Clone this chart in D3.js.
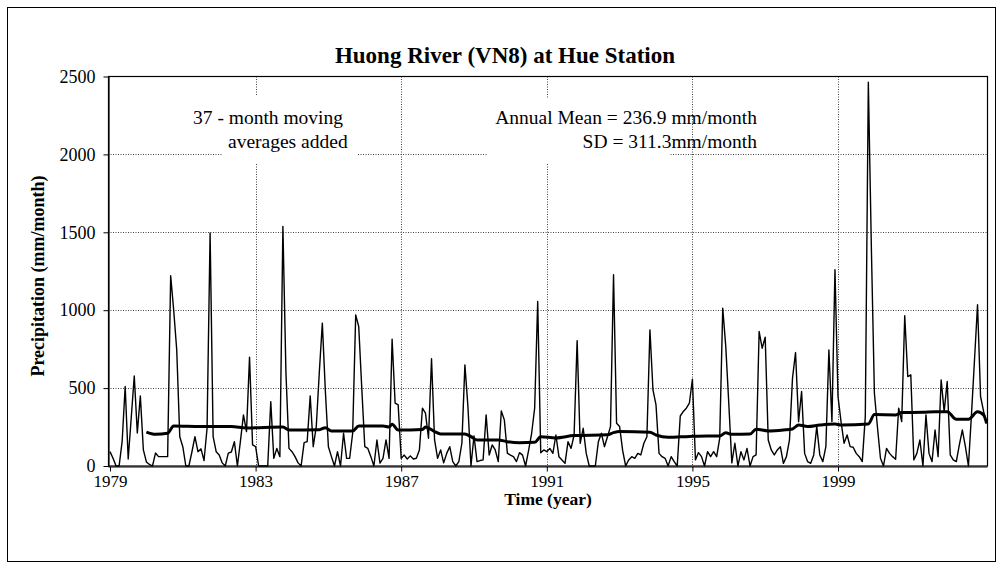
<!DOCTYPE html>
<html><head><meta charset="utf-8">
<script src="https://cdn.jsdelivr.net/npm/d3@7"></script>
<style>
body{margin:0;background:#fff;}
svg{display:block;}
text{font-family:"Liberation Serif","Times New Roman",serif;fill:#000;}
</style>
</head><body>
<svg id="c" width="1002" height="569"></svg>
<script>
// ---- data ----
const startYear = 1979;               // first month = Jan 1979
const precip = [
 92,50,0,0,156,510,45,310,578,212,450,103,
 26,10,0,83,60,60,60,60,1221,1000,745,188,
 124,0,0,90,188,92,110,35,242,1496,188,92,
 71,20,0,83,90,156,0,160,328,221,699,135,
 124,0,0,0,0,413,49,113,60,1538,600,113,
 92,60,20,0,150,156,450,124,253,600,917,480,
 124,60,0,92,0,210,49,49,210,970,895,500,
 124,113,60,0,167,19,49,167,49,814,403,392,
 49,70,45,65,45,50,103,371,339,178,688,167,
 49,103,20,81,124,28,0,28,146,649,381,0,
 193,28,35,39,328,71,135,103,28,353,296,83,
 70,60,28,86,70,0,100,210,371,1056,85,103,
 92,113,81,199,60,39,17,156,113,199,805,146,
 242,81,0,0,0,156,210,124,188,253,1228,274,
 253,100,0,39,60,49,81,71,146,188,874,488,
 392,81,60,49,0,60,28,0,321,350,371,403,
 557,39,86,60,0,92,60,92,60,178,1013,767,
 400,20,146,0,92,39,113,0,60,71,863,756,
 827,167,103,71,103,124,17,60,167,564,728,285,
 478,81,28,17,71,253,71,28,124,745,285,1260,
 446,285,146,199,124,120,81,60,28,317,2463,1400,
 467,250,50,0,113,81,60,43,371,285,964,574,
 585,39,81,167,0,328,81,28,231,60,553,349,
 542,71,39,28,135,231,124,0,330,680,1035,446,
 350,274
];
// 37-month moving average, read at its turning points (month index from Jan 1979)
const maMonth = [12,15,19,21,30,40,45,57,59,69,71,73,80,82,90,92,93,95,103,104,107,109,117,119,121,128,131,135,140,142,147,153,164,166,168,178,180,184,191,197,201,203,205,211,213,217,222,225,227,230,234,239,241,250,252,259,261,268,272,276,279,283,286,288,289];
const maValue = [217,203,210,257,254,254,244,250,231,233,246,225,225,257,257,250,268,231,235,250,221,206,206,188,167,167,156,150,152,188,180,195,200,214,221,216,199,184,190,193,193,214,203,205,236,225,231,238,263,253,263,270,263,270,330,328,343,345,349,349,300,300,349,328,274];
const yTicks = [0,500,1000,1500,2000,2500];
const xTicks = [1979,1983,1987,1991,1995,1999];
const title = "Huong River (VN8) at Hue Station";
const yLabel = "Precipitation (mm/month)";
const xLabel = "Time (year)";
const note1 = ["37 - month moving", "averages added"];
const note2 = ["Annual Mean = 236.9 mm/month", "SD = 311.3mm/month"];

// ---- layout ----
const svg = d3.select("#c");
const L = 108, R = 987, T = 76.5, B = 466;
const x = d3.scaleLinear().domain([startYear - 2/36.4, startYear + (R - 110)/36.4]).range([L, R]);
const y = d3.scaleLinear().domain([0, 2500]).range([B, T]);
const tOf = i => startYear + i / 12;

// outer frame
svg.append("rect").attr("x", 7.5).attr("y", 7.5).attr("width", 988).attr("height", 554)
  .attr("fill", "none").attr("stroke", "#000").attr("stroke-width", 1);

// grid
const grid = svg.append("g").attr("stroke", "#444").attr("stroke-width", 1).attr("stroke-dasharray", "1,1.5");
grid.selectAll("line.h").data(yTicks.filter(d => d > 0 && d < 2500)).join("line")
  .attr("x1", L).attr("x2", R).attr("y1", d => Math.round(y(d)) + 0.5).attr("y2", d => Math.round(y(d)) + 0.5);
grid.selectAll("line.v").data(xTicks.filter(d => d > startYear)).join("line")
  .attr("x1", d => Math.round(x(d)) + 0.5).attr("x2", d => Math.round(x(d)) + 0.5).attr("y1", T).attr("y2", B);

// white annotation boxes (hide grid behind notes)
svg.append("rect").attr("x", 222).attr("y", 96).attr("width", 135).attr("height", 67).attr("fill", "#fff");
svg.append("rect").attr("x", 488).attr("y", 98).attr("width", 182).attr("height", 65).attr("fill", "#fff");

// plot frame
svg.append("rect").attr("x", L + 0.5).attr("y", T).attr("width", R - L).attr("height", B - T)
  .attr("fill", "none").attr("stroke", "#000").attr("stroke-width", 1.2);

// raw series
const line = d3.line().x((d, i) => x(tOf(i))).y(d => y(d));
svg.append("path").datum(precip).attr("d", line)
  .attr("fill", "none").attr("stroke", "#000").attr("stroke-width", 1.4).attr("stroke-linejoin", "round");

// moving average
const maLine = d3.line().x(d => x(tOf(d[0]))).y(d => y(d[1])).curve(d3.curveMonotoneX);
svg.append("path").datum(maMonth.map((m, k) => [m, maValue[k]])).attr("d", maLine)
  .attr("fill", "none").attr("stroke", "#000").attr("stroke-width", 3).attr("stroke-linejoin", "round");

// axes
const ax = svg.append("g").attr("transform", `translate(${L + 0.5},0)`)
  .call(d3.axisLeft(y).tickValues(yTicks).tickFormat(d3.format("d")).tickSize(5).tickSizeOuter(0).tickPadding(8));
ax.select(".domain").attr("stroke", "#000").attr("stroke-width", 1.2);
ax.selectAll("text").style("font-family", '"Liberation Serif", serif').style("font-size", "18px").attr("fill", "#000");

const bx = svg.append("g").attr("transform", `translate(0,${B + 0.5})`)
  .call(d3.axisBottom(x).tickValues(xTicks).tickFormat(d3.format("d")).tickSize(5).tickSizeOuter(0).tickPadding(3));
bx.select(".domain").attr("stroke", "#000").attr("stroke-width", 1.2);
bx.selectAll("text").style("font-family", '"Liberation Serif", serif').style("font-size", "17px").attr("fill", "#000");

// texts
svg.append("text").attr("x", 505).attr("y", 63).attr("text-anchor", "middle")
  .style("font-size", "23px").style("font-weight", "bold").text(title);
svg.append("text").attr("transform", "translate(44,276) rotate(-90)").attr("text-anchor", "middle")
  .style("font-size", "18px").style("font-weight", "bold").text(yLabel);
svg.append("text").attr("x", 548).attr("y", 505).attr("text-anchor", "middle")
  .style("font-size", "17.5px").style("font-weight", "bold").text(xLabel);

svg.append("text").attr("x", 193).attr("y", 124).style("font-size", "19.5px").text(note1[0]);
svg.append("text").attr("x", 228).attr("y", 148).style("font-size", "19.5px").text(note1[1]);
svg.append("text").attr("x", 757).attr("y", 124).attr("text-anchor", "end").style("font-size", "19.5px").text(note2[0]);
svg.append("text").attr("x", 757).attr("y", 148).attr("text-anchor", "end").style("font-size", "19.5px").text(note2[1]);
</script>
</body></html>
